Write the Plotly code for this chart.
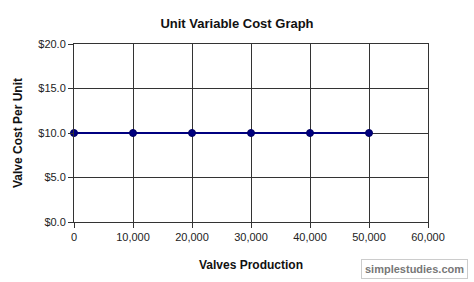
import plotly.graph_objects as go

production = [0, 10000, 20000, 30000, 40000, 50000]
unit_cost = [10.0, 10.0, 10.0, 10.0, 10.0, 10.0]
x_ticks = [0, 10000, 20000, 30000, 40000, 50000, 60000]
y_ticks = [0, 5, 10, 15, 20]

fig = go.Figure()
fig.add_trace(go.Scatter(
    x=production, y=unit_cost, mode="lines+markers",
    line=dict(color="#000080", width=2),
    marker=dict(color="#000080", size=7, line=dict(color="#000060", width=1)),
    cliponaxis=False, showlegend=False,
))

fig.update_layout(
    width=474, height=282,
    margin=dict(l=74, r=46, t=44, b=58),
    paper_bgcolor="white", plot_bgcolor="white",
    font=dict(family="Arial, Liberation Sans, sans-serif", size=11, color="#222"),
    title=dict(text="<b>Unit Variable Cost Graph</b>", x=0.5, xanchor="center",
               y=1 - 23/282, yanchor="middle", font=dict(size=13, color="#111")),
    xaxis=dict(range=[0, 60000], tickvals=x_ticks, tickformat=",d",
               showgrid=True, gridcolor="#333", gridwidth=1,
               showline=True, linecolor="#333", linewidth=1, mirror=True,
               ticks="outside", ticklen=5, tickcolor="#333",
               zeroline=False,
               title=dict(text="<b>Valves Production</b>", standoff=18,
                          font=dict(size=12, color="#111"))),
    yaxis=dict(range=[0, 20], tickvals=y_ticks, tickformat="$.1f",
               showgrid=True, gridcolor="#333", gridwidth=1,
               showline=True, linecolor="#333", linewidth=1, mirror=True,
               ticks="outside", ticklen=5, tickcolor="#333",
               zeroline=False,
               title=dict(text="<b>Valve Cost Per Unit</b>", standoff=13,
                          font=dict(size=12, color="#111"))),
)

fig.add_annotation(
    text="<b>simplestudies.com</b>", xref="paper", yref="paper",
    x=(414 - 74) / 354, y=-(272 - 224) / 180, xanchor="center", yanchor="middle",
    showarrow=False, font=dict(size=11, color="#777"),
    bgcolor="white", bordercolor="#ccc", borderwidth=1, borderpad=3,
)

fig.write_html("out.html")
